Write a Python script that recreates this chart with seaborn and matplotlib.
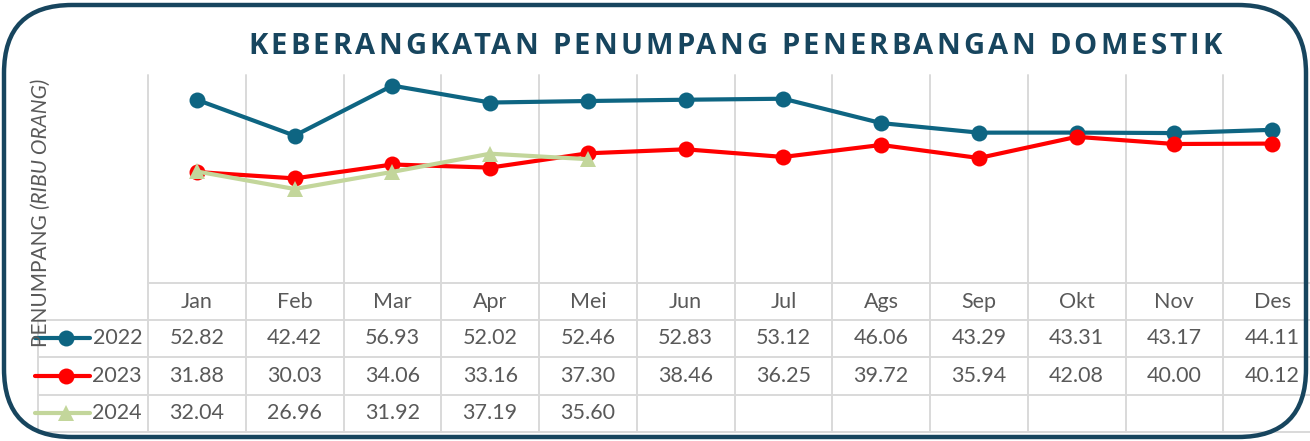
import matplotlib
matplotlib.use("Agg")
import matplotlib.pyplot as plt
import matplotlib.transforms as mtransforms
from matplotlib.lines import Line2D
from matplotlib.patches import FancyBboxPatch
import numpy as np
import pandas as pd
import seaborn as sns

# ---- data (ribu orang) ----
bulan = ["Jan", "Feb", "Mar", "Apr", "Mei", "Jun", "Jul", "Ags", "Sep", "Okt", "Nov", "Des"]
tahun = ["2022", "2023", "2024"]
nilai_2022 = [52.82, 42.42, 56.93, 52.02, 52.46, 52.83, 53.12, 46.06, 43.29, 43.31, 43.17, 44.11]
nilai_2023 = [31.88, 30.03, 34.06, 33.16, 37.30, 38.46, 36.25, 39.72, 35.94, 42.08, 40.00, 40.12]
nilai_2024 = [32.04, 26.96, 31.92, 37.19, 35.60]
judul = "KEBERANGKATAN PENUMPANG PENERBANGAN DOMESTIK"

series = {"2022": nilai_2022, "2023": nilai_2023, "2024": nilai_2024}
warna = {"2022": "#0E6582", "2023": "#FF0000", "2024": "#C3D69B"}
penanda = {"2022": "o", "2023": "o", "2024": "^"}

rows = []
for th in tahun:
    for b, v in zip(bulan, series[th]):
        rows.append({"bulan": b, "tahun": th, "nilai": v})
df = pd.DataFrame(rows)

sns.set_theme(style="white")
plt.rcParams["font.family"] = ["Lato", "DejaVu Sans"]

W, H = 1310, 441
fig = plt.figure(figsize=(W / 100, H / 100), dpi=100)
fig.patch.set_facecolor("white")


def fx(px):
    return px / W


def fy(py):
    return 1 - py / H


TEXT = "#595959"
GRID = "#D9D9D9"

# ---- plot area ----
x0, x1, ytop, ybot = 148, 1321, 75, 282
ax = fig.add_axes([fx(x0), fy(ybot), fx(x1) - fx(x0), fy(ytop) - fy(ybot)])
sns.lineplot(data=df, x="bulan", y="nilai", hue="tahun", style="tahun",
             markers=penanda, dashes=False, palette=warna, linewidth=3,
             markersize=11.5, markeredgewidth=0, sort=False, legend=False, ax=ax)
ax.set_xlim(-0.5, len(bulan) - 0.5)
ax.set_ylim(0, 60)
ax.axis("off")
ax.patch.set_alpha(0)

blend = mtransforms.blended_transform_factory(ax.transData, fig.transFigure)

# vertical grid lines through plot and table
for k in range(len(bulan) + 1):
    fig.add_artist(Line2D([k - 0.5, k - 0.5], [fy(ytop), fy(432)], transform=blend,
                          color=GRID, lw=1.4, zorder=0))

# horizontal table lines
fig.add_artist(Line2D([fx(x0), 1], [fy(283), fy(283)], transform=fig.transFigure,
                      color=GRID, lw=1.4, zorder=0))
for yy in [320, 357, 395, 432]:
    fig.add_artist(Line2D([fx(38), 1], [fy(yy), fy(yy)], transform=fig.transFigure,
                          color=GRID, lw=1.4, zorder=0))
fig.add_artist(Line2D([fx(38), fx(38)], [fy(320), fy(432)], transform=fig.transFigure,
                      color=GRID, lw=1.4, zorder=0))

FS = 15.5
# header months
for i, b in enumerate(bulan):
    fig.text(i, fy(302), b, transform=blend, ha="center", va="center",
             fontsize=FS, color=TEXT)

row_y = {"2022": 338, "2023": 376, "2024": 413}
for th in tahun:
    yy = row_y[th]
    for i, v in enumerate(series[th]):
        fig.text(i, fy(yy), f"{v:.2f}", transform=blend, ha="center", va="center",
                 fontsize=FS, color=TEXT)
    # legend key
    fig.add_artist(Line2D([fx(35), fx(90)], [fy(yy), fy(yy)], transform=fig.transFigure,
                          color=warna[th], lw=3))
    fig.add_artist(Line2D([fx(66)], [fy(yy)], transform=fig.transFigure, color=warna[th],
                          marker=penanda[th], markersize=11.5 if penanda[th] == "o" else 12,
                          markeredgewidth=0, lw=0))
    fig.text(fx(142), fy(yy), th, ha="right", va="center", fontsize=FS, color=TEXT)

# ---- y-axis label (rotated, two styles) ----
renderer = fig.canvas.get_renderer()
YFS = 15
t1 = fig.text(fx(41), fy(347), "PENUMPANG ", rotation=90, rotation_mode="anchor",
              ha="left", va="center", fontsize=YFS, color=TEXT)
bb = t1.get_window_extent(renderer)
fig.text(fx(41), fy(347 - bb.height), "(RIBU ORANG)", rotation=90, rotation_mode="anchor",
         ha="left", va="center", fontsize=YFS, color=TEXT, style="italic")

# ---- letter-spaced title ----
TITLE_COLOR = "#17455E"
tfs = 21
tprops = dict(fontsize=tfs, fontweight="bold", color=TITLE_COLOR, family=["Open Sans", "DejaVu Sans"])


def width_of(s):
    t = fig.text(0, 0, s, **tprops)
    w = t.get_window_extent(renderer).width
    t.remove()
    return w


full_w = width_of(judul)
left, right = 248, 1222
gap = (right - left - full_w) / (len(judul) - 1)
for i, ch in enumerate(judul):
    if ch == " ":
        continue
    pos = width_of(judul[:i + 1]) - width_of(ch)
    fig.text(fx(left + pos + i * gap), fy(47), ch, ha="left", va="center", **tprops)

# ---- rounded frame ----
frame_ax = fig.add_axes([0, 0, 1, 1], zorder=5)
frame_ax.set_xlim(0, W)
frame_ax.set_ylim(H, 0)
frame_ax.axis("off")
frame_ax.patch.set_alpha(0)
frame_ax.add_patch(FancyBboxPatch((4, 5), 1302, 432, boxstyle="round,pad=0,rounding_size=68",
                                  fill=False, ec="#17455E", lw=3.2))

fig.savefig("out.png", dpi=100, facecolor="white")
